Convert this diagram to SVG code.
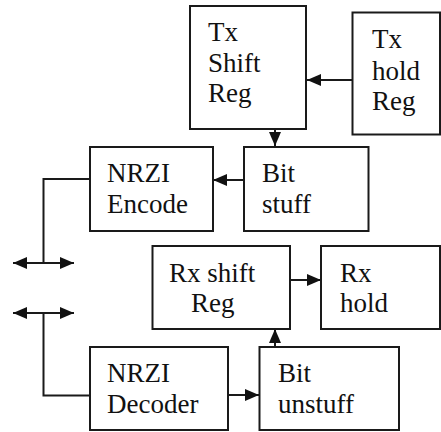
<svg xmlns="http://www.w3.org/2000/svg" width="441" height="432" viewBox="0 0 441 432">
<defs>
<style>
.box{fill:#fff;stroke:#1a1a1a;stroke-width:2}
.t{font-family:'Liberation Serif',Tinos,'Times New Roman',Times,'DejaVu Serif',serif;font-size:27px;fill:#111}
.ln{stroke:#1a1a1a;stroke-width:2;fill:none}
</style>
<marker id="ah" viewBox="0 0 14 12" refX="14" refY="6" markerWidth="14" markerHeight="12" markerUnits="userSpaceOnUse" orient="auto-start-reverse">
<path d="M0,0 L14,6 L0,12 Z" fill="#111"/>
</marker>
</defs>
<rect width="441" height="432" fill="#fff"/>
<g id="connectors">
<line class="ln" x1="352" y1="80" x2="307" y2="80" marker-end="url(#ah)"/>
<line class="ln" x1="275" y1="130" x2="275" y2="146" marker-end="url(#ah)"/>
<line class="ln" x1="244" y1="180" x2="213" y2="180" marker-end="url(#ah)"/>
<polyline class="ln" points="90,179 43.5,179 43.5,263"/>
<line class="ln" x1="13" y1="263" x2="74" y2="263" marker-start="url(#ah)" marker-end="url(#ah)"/>
<line class="ln" x1="13" y1="313" x2="74" y2="313" marker-start="url(#ah)" marker-end="url(#ah)"/>
<polyline class="ln" points="43.5,313 43.5,395.5 90,395.5"/>
<line class="ln" x1="290" y1="280" x2="321" y2="280" marker-end="url(#ah)"/>
<line class="ln" x1="228" y1="395" x2="259" y2="395" marker-end="url(#ah)"/>
<line class="ln" x1="275" y1="347" x2="275" y2="329" marker-end="url(#ah)"/>
</g>
<g id="tx-shift-reg">
<rect class="box" x="190" y="6" width="116" height="123"/>
<text class="t" x="208" y="41" font-family="Liberation Serif, serif">Tx</text>
<text class="t" x="208" y="72">Shift</text>
<text class="t" x="208" y="102">Reg</text>
</g>
<g id="tx-hold-reg">
<rect class="box" x="352.5" y="12.5" width="87.5" height="122"/>
<text class="t" x="372" y="48">Tx</text>
<text class="t" x="372" y="80">hold</text>
<text class="t" x="372" y="110">Reg</text>
</g>
<g id="nrzi-encode">
<rect class="box" x="90" y="147" width="123" height="84"/>
<text class="t" x="107" y="182">NRZI</text>
<text class="t" x="107" y="213">Encode</text>
</g>
<g id="bit-stuff">
<rect class="box" x="244" y="147" width="124.5" height="84"/>
<text class="t" x="262" y="182">Bit</text>
<text class="t" x="262" y="213">stuff</text>
</g>
<g id="rx-shift-reg">
<rect class="box" x="152.5" y="246" width="137.5" height="83"/>
<text class="t" x="169" y="282">Rx shift</text>
<text class="t" x="191" y="312">Reg</text>
</g>
<g id="rx-hold">
<rect class="box" x="321" y="246" width="119" height="83"/>
<text class="t" x="340" y="282">Rx</text>
<text class="t" x="340" y="312">hold</text>
</g>
<g id="nrzi-decoder">
<rect class="box" x="90" y="347" width="138" height="83"/>
<text class="t" x="107" y="382">NRZI</text>
<text class="t" x="107" y="413">Decoder</text>
</g>
<g id="bit-unstuff">
<rect class="box" x="259.5" y="347" width="139.5" height="83"/>
<text class="t" x="278" y="382">Bit</text>
<text class="t" x="278" y="413">unstuff</text>
</g>
</svg>
